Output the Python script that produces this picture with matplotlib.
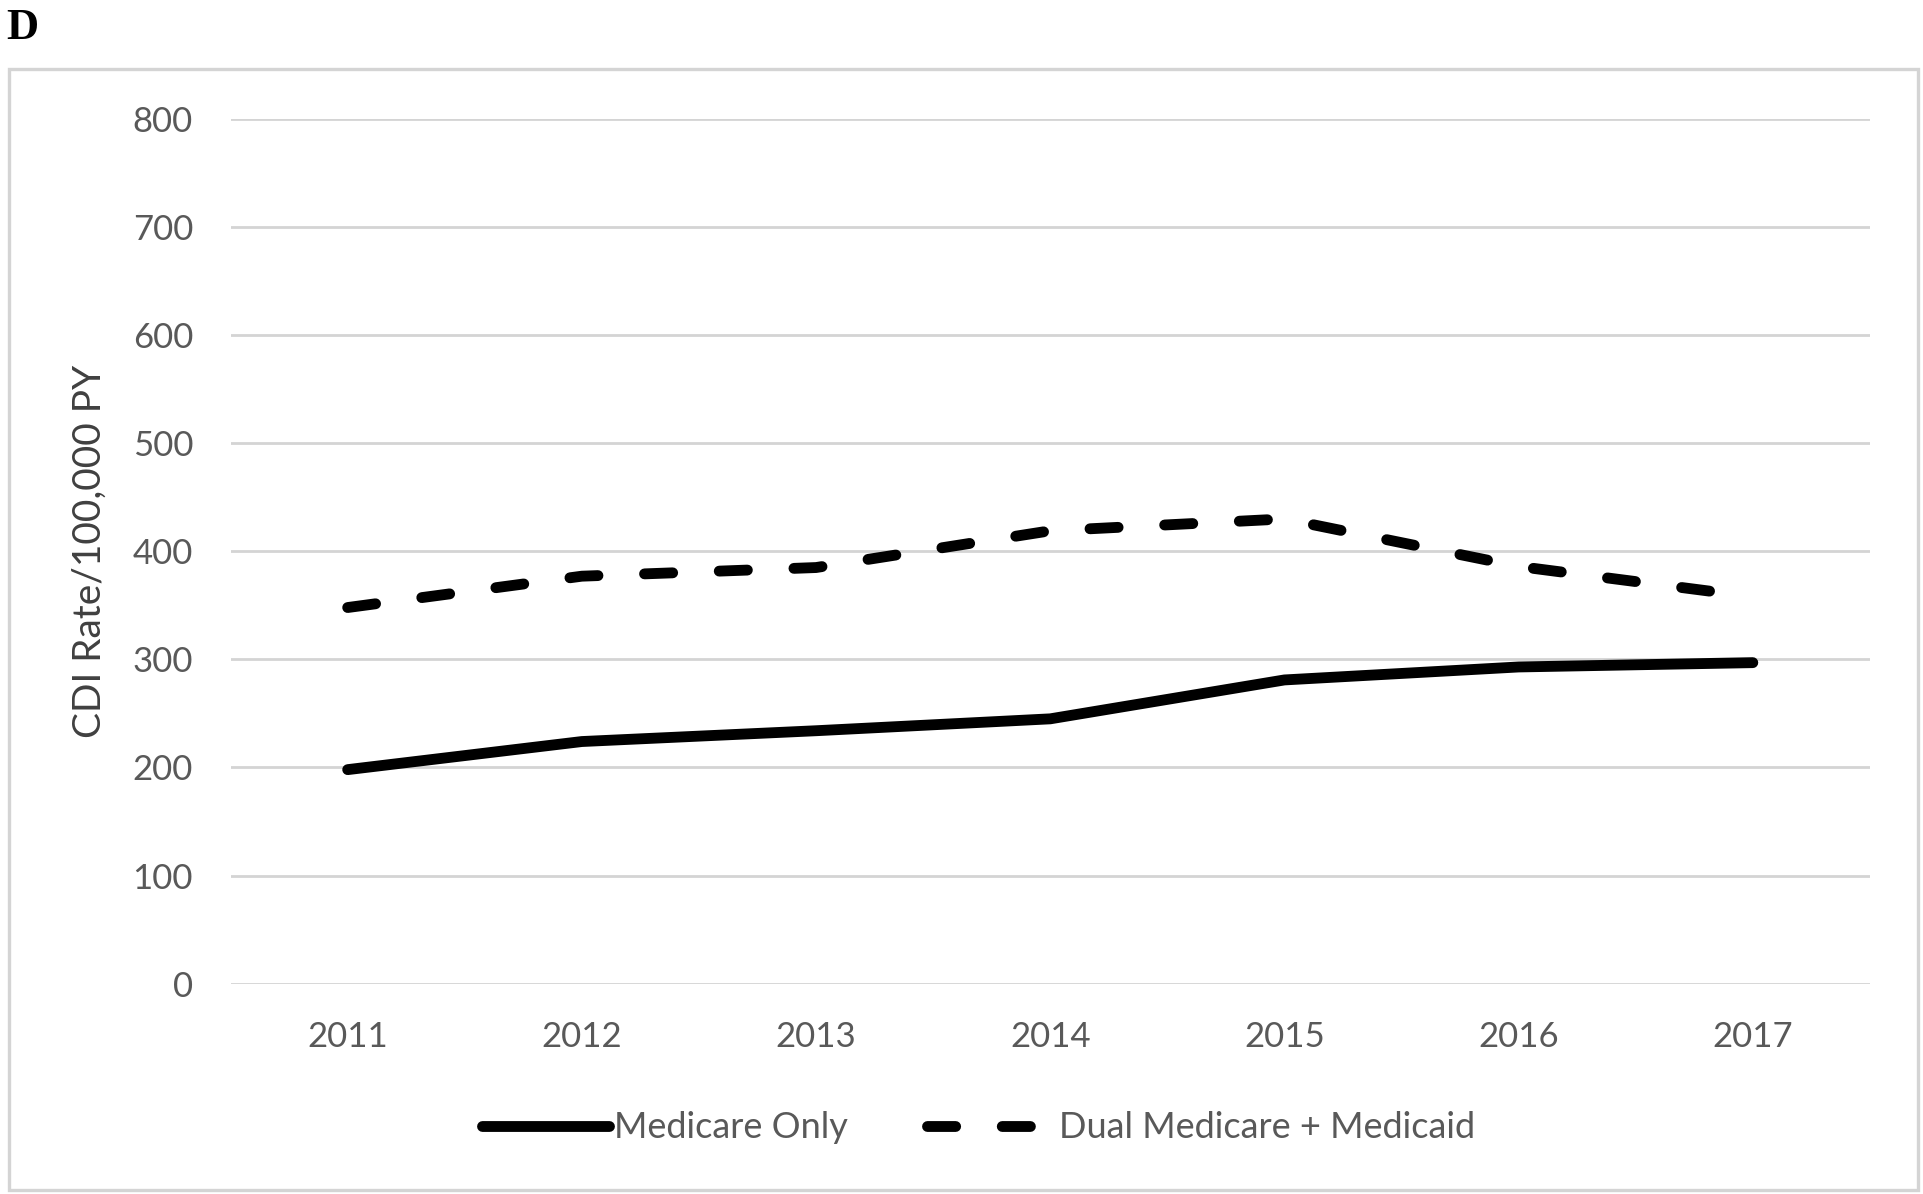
import matplotlib
matplotlib.use("Agg")
import matplotlib.pyplot as plt
from matplotlib.patches import Rectangle

years = ["2011", "2012", "2013", "2014", "2015", "2016", "2017"]
medicare_only = [198, 224, 234, 245, 281, 293, 297]
dual_medicare_medicaid = [348, 377, 385, 419, 430, 386, 358]
y_ticks = [0, 100, 200, 300, 400, 500, 600, 700, 800]

plt.rcParams['font.family'] = ['Lato', 'DejaVu Sans']

fig = plt.figure(figsize=(19.23, 11.94), dpi=100)
ax = fig.add_axes([0.1199, 0.1762, 0.9724 - 0.1199, 0.9003 - 0.1762])

x = list(range(len(years)))
ax.plot(x, medicare_only, color='black', lw=7.8, solid_capstyle='round',
        solid_joinstyle='round', label='Medicare Only', zorder=3)
ax.plot(x, dual_medicare_medicaid, color='black', lw=7.8, dashes=(2.6, 4.3),
        dash_capstyle='round', dash_joinstyle='round',
        label='Dual Medicare + Medicaid', zorder=3)

ax.set_xlim(-0.5, len(years) - 0.5)
ax.set_ylim(0, 800)
ax.set_yticks(y_ticks)
ax.set_xticks(x)
ax.set_xticklabels(years)
ax.grid(axis='y', color='#d4d4d4', lw=2.0)
ax.set_axisbelow(True)
for s in ax.spines.values():
    s.set_visible(False)
ax.tick_params(axis='both', length=0, labelsize=25, labelcolor='#595959')
ax.tick_params(axis='y', pad=27)
ax.tick_params(axis='x', pad=27)
ax.set_ylabel('CDI Rate/100,000 PY', fontsize=28, color='#404040', labelpad=18)

leg = fig.legend(loc='center', bbox_to_anchor=(0.509, 1 - 1128 / 1194), ncol=2,
                 frameon=False, fontsize=26, handlelength=3.5, handletextpad=0.15,
                 columnspacing=2.2, labelcolor='#595959')

fig.patches.append(Rectangle((9 / 1923, 4 / 1194), (1918 - 9) / 1923, (1125 - 4) / 1194,
                             transform=fig.transFigure, fill=False,
                             edgecolor='#d4d4d4', lw=2.4))
fig.text(6 / 1923, 1 - 39 / 1194, 'D', fontsize=32, fontweight='bold',
         family='Liberation Serif', ha='left', va='baseline')

fig.savefig('out.png', dpi=100)
